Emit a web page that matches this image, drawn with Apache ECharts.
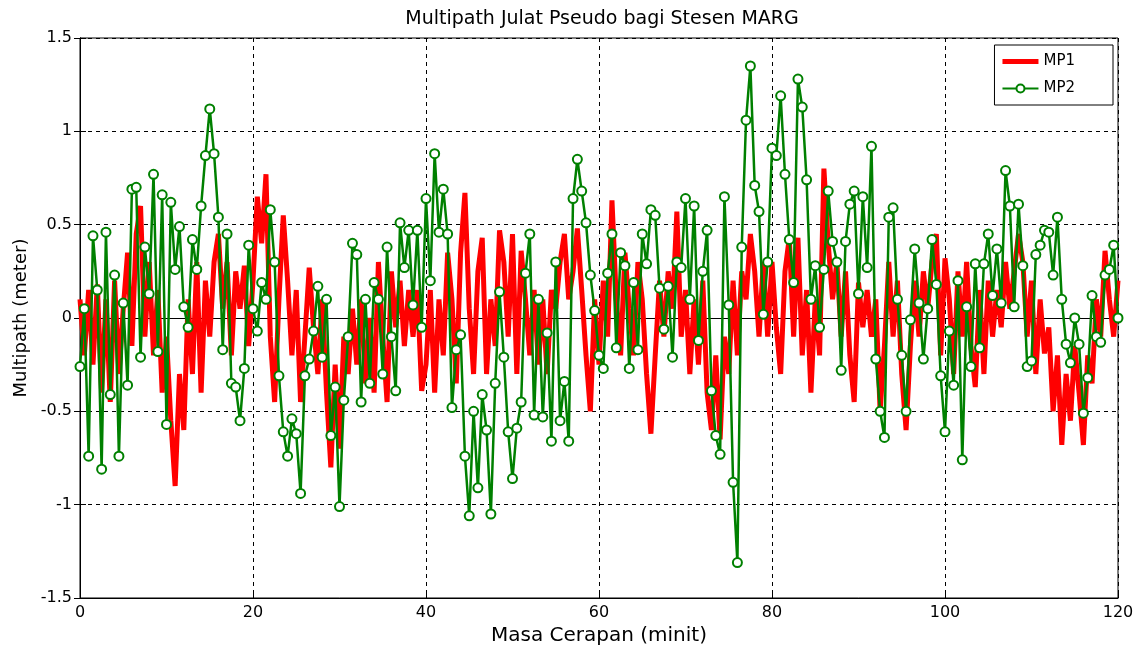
<!DOCTYPE html>
<html>
<head>
<meta charset="utf-8">
<script src="https://cdn.jsdelivr.net/npm/echarts@6/dist/echarts.min.js"></script>
<style>
html,body{margin:0;padding:0;background:#fff;}
#chart{width:1143px;height:657px;}
</style>
</head>
<body>
<div id="chart"></div>
<script>
// Sampling interval (minutes) between epochs
const SAMPLE_STEP = 0.5;
const xTicks = [0, 20, 40, 60, 80, 100, 120];
const yTicks = [-1.5, -1, -0.5, 0, 0.5, 1, 1.5];

// MP1 values (meter), one per epoch from 0 to 120 min
const mp1 = [
  0.10,-0.20,0.15,-0.25,0.18,-0.40,0.10,-0.45,0.20,-0.30,
  0.05,0.35,-0.15,0.45,0.60,-0.10,0.30,-0.20,0.15,-0.40,
  -0.10,-0.55,-0.90,-0.30,-0.60,0.10,-0.30,0.30,-0.40,0.20,
  -0.10,0.30,0.45,0.05,0.30,-0.20,0.25,0.05,0.28,-0.15,
  0.20,0.65,0.40,0.77,-0.10,-0.45,0.10,0.55,0.20,-0.20,
  0.15,-0.45,-0.10,0.27,-0.05,-0.30,0.10,-0.40,-0.80,-0.25,
  -0.70,-0.10,-0.30,0.05,-0.25,0.10,-0.35,0.00,-0.40,0.30,
  -0.10,-0.45,0.25,-0.05,0.20,-0.15,0.15,-0.10,0.15,-0.39,
  -0.25,0.15,-0.40,0.10,-0.20,0.35,0.10,-0.35,0.35,0.67,
  0.05,-0.30,0.25,0.43,-0.30,0.10,-0.15,0.47,0.30,-0.10,
  0.45,-0.30,0.36,0.10,-0.20,0.15,-0.25,0.10,-0.30,0.15,
  0.05,0.30,0.45,0.10,0.25,0.48,0.15,-0.20,-0.50,0.10,
  -0.25,0.20,-0.10,0.63,0.10,-0.20,0.35,0.05,-0.20,0.30,
  0.10,-0.30,-0.62,-0.20,0.20,-0.10,0.25,0.05,0.57,-0.10,
  0.15,-0.30,0.10,-0.25,0.20,-0.40,-0.60,-0.20,-0.65,-0.10,
  -0.30,0.20,-0.20,0.25,0.10,0.45,0.25,-0.10,0.30,-0.10,
  0.30,-0.05,-0.30,0.25,0.43,-0.10,0.43,-0.20,0.15,-0.40,
  0.10,-0.20,0.80,0.40,0.10,0.30,-0.10,0.25,-0.20,-0.45,
  0.19,-0.05,0.15,-0.10,0.10,-0.50,-0.15,0.30,-0.10,0.20,
  -0.30,-0.60,-0.15,0.20,-0.10,0.25,0.05,0.30,0.45,-0.20,
  0.32,0.10,-0.30,0.25,-0.10,0.30,-0.15,-0.37,0.15,-0.30,
  0.20,-0.10,0.15,-0.05,0.30,0.05,0.25,0.45,0.30,-0.10,
  0.20,-0.30,0.10,-0.19,-0.05,-0.50,-0.20,-0.68,-0.30,-0.55,
  -0.15,-0.40,-0.68,-0.20,-0.35,0.10,-0.10,0.36,0.10,-0.10,
  0.20
];

// MP2 values (meter), one per epoch from 0 to 120 min
const mp2 = [
  -0.26,0.05,-0.74,0.44,0.15,-0.81,0.46,-0.41,0.23,-0.74,
  0.08,-0.36,0.69,0.70,-0.21,0.38,0.13,0.77,-0.18,0.66,
  -0.57,0.62,0.26,0.49,0.06,-0.05,0.42,0.26,0.60,0.87,
  1.12,0.88,0.54,-0.17,0.45,-0.35,-0.37,-0.55,-0.27,0.39,
  0.05,-0.07,0.19,0.10,0.58,0.30,-0.31,-0.61,-0.74,-0.54,
  -0.62,-0.94,-0.31,-0.22,-0.07,0.17,-0.21,0.10,-0.63,-0.37,
  -1.01,-0.44,-0.10,0.40,0.34,-0.45,0.10,-0.35,0.19,0.10,
  -0.30,0.38,-0.10,-0.39,0.51,0.27,0.47,0.07,0.47,-0.05,
  0.64,0.20,0.88,0.46,0.69,0.45,-0.48,-0.17,-0.09,-0.74,
  -1.06,-0.50,-0.91,-0.41,-0.60,-1.05,-0.35,0.14,-0.21,-0.61,
  -0.86,-0.59,-0.45,0.24,0.45,-0.52,0.10,-0.53,-0.08,-0.66,
  0.30,-0.55,-0.34,-0.66,0.64,0.85,0.68,0.51,0.23,0.04,
  -0.20,-0.27,0.24,0.45,-0.16,0.35,0.28,-0.27,0.19,-0.17,
  0.45,0.29,0.58,0.55,0.16,-0.06,0.17,-0.21,0.30,0.27,
  0.64,0.10,0.60,-0.12,0.25,0.47,-0.39,-0.63,-0.73,0.65,
  0.07,-0.88,-1.31,0.38,1.06,1.35,0.71,0.57,0.02,0.30,
  0.91,0.87,1.19,0.77,0.42,0.19,1.28,1.13,0.74,0.10,
  0.28,-0.05,0.26,0.68,0.41,0.30,-0.28,0.41,0.61,0.68,
  0.13,0.65,0.27,0.92,-0.22,-0.50,-0.64,0.54,0.59,0.10,
  -0.20,-0.50,-0.01,0.37,0.08,-0.22,0.05,0.42,0.18,-0.31,
  -0.61,-0.07,-0.36,0.20,-0.76,0.06,-0.26,0.29,-0.16,0.29,
  0.45,0.12,0.37,0.08,0.79,0.60,0.06,0.61,0.28,-0.26,
  -0.23,0.34,0.39,0.47,0.46,0.23,0.54,0.10,-0.14,-0.24,
  0.00,-0.14,-0.51,-0.32,0.12,-0.10,-0.13,0.23,0.26,0.39,
  0.00
];

const toPairs = arr => arr.map((v, i) => [i * SAMPLE_STEP, v]);

const FONT = 'DejaVu Sans';
const chart = echarts.init(document.getElementById('chart'), null, {renderer: 'canvas'});

const tickInside = {show: true, inside: true, length: 6, lineStyle: {color: '#000', width: 1}};
const gridDash = {show: true, lineStyle: {color: '#000', type: [4, 4], width: 1}};

chart.setOption({
  animation: false,
  backgroundColor: '#fff',
  title: {
    text: 'Multipath Julat Pseudo bagi Stesen MARG',
    left: 597, top: 5, textAlign: 'center',
    textStyle: {fontFamily: FONT, fontSize: 19, fontWeight: 'normal', color: '#000'}
  },
  legend: {
    orient: 'vertical',
    right: 30, top: 45,
    backgroundColor: '#fff',
    borderColor: '#000', borderWidth: 1, borderRadius: 0,
    padding: [9, 38, 9, 7],
    itemWidth: 36, itemHeight: 10, itemGap: 12,
    textStyle: {fontFamily: FONT, fontSize: 15, color: '#000'},
    data: [
      {name: 'MP1', icon: 'path://M0,0L36,0L36,5L0,5Z'},
      {name: 'MP2'}
    ]
  },
  grid: {left: 80, right: 25, top: 38, bottom: 59, show: true, borderColor: '#000', borderWidth: 1, backgroundColor: '#fff'},
  xAxis: [{
    type: 'value', min: 0, max: 120, interval: 20,
    name: 'Masa Cerapan (minit)', nameLocation: 'middle', nameGap: 28,
    nameTextStyle: {fontFamily: FONT, fontSize: 20, color: '#000'},
    axisLine: {show: true, onZero: false, lineStyle: {color: '#000', width: 1}},
    axisTick: tickInside,
    axisLabel: {fontFamily: FONT, fontSize: 16, color: '#000', margin: 7},
    splitLine: gridDash
  }, {
    type: 'value', min: 0, max: 120, interval: 20, position: 'top',
    axisLine: {show: true, lineStyle: {color: '#000'}},
    axisTick: tickInside, axisLabel: {show: false}, splitLine: {show: false}
  }],
  yAxis: [{
    type: 'value', min: -1.5, max: 1.5, interval: 0.5,
    name: 'Multipath (meter)', nameLocation: 'middle', nameGap: 48,
    nameTextStyle: {fontFamily: FONT, fontSize: 18, color: '#000'},
    axisLine: {show: true, onZero: false, lineStyle: {color: '#000', width: 1}},
    axisTick: tickInside,
    axisLabel: {fontFamily: FONT, fontSize: 16, color: '#000', margin: 8,
      formatter: v => String(v)},
    splitLine: gridDash
  }, {
    type: 'value', min: -1.5, max: 1.5, interval: 0.5, position: 'right',
    axisLine: {show: true, lineStyle: {color: '#000'}},
    axisTick: tickInside, axisLabel: {show: false}, splitLine: {show: false}
  }],
  series: [{
    name: 'MP1', type: 'line',
    data: toPairs(mp1),
    showSymbol: false, symbol: 'none',
    lineStyle: {color: '#ff0000', width: 5},
    itemStyle: {color: '#ff0000'},
    z: 2
  }, {
    name: 'MP2', type: 'line',
    data: toPairs(mp2),
    symbol: 'emptyCircle', symbolSize: 9, showSymbol: true,
    showAllSymbol: true,
    lineStyle: {color: '#008000', width: 2.5},
    itemStyle: {color: '#008000', borderColor: '#008000', borderWidth: 2},
    z: 3
  }]
});
</script>
</body>
</html>
